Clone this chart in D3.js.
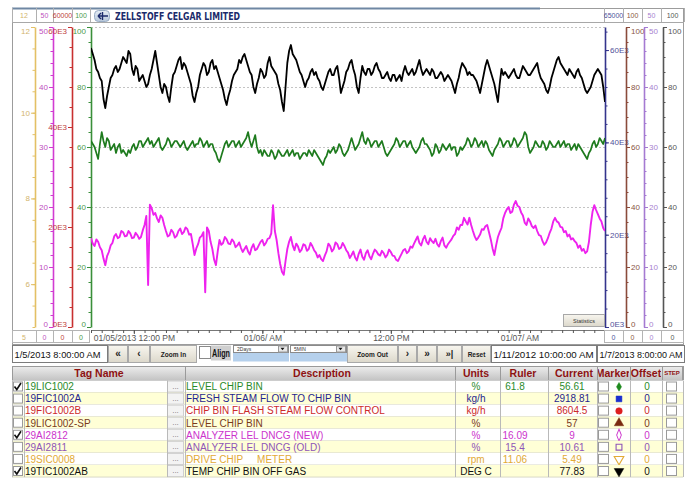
<!DOCTYPE html>
<html>
<head>
<meta charset="utf-8">
<script src="https://cdn.jsdelivr.net/npm/d3@7/dist/d3.min.js"></script>
<style>
html,body{margin:0;padding:0;background:#fff;}
svg{display:block;font-family:Arial,"Liberation Sans",sans-serif;}
</style>
</head>
<body>
<svg id="chart" width="694" height="479"></svg>
<script>
// ================= DATA =================
const startTime = new Date(2013, 0, 5, 8, 0, 0);
const endTime = new Date(2013, 0, 7, 8, 0, 0);
const sampleMinutes = 10;

// 19TIC1002AB  TEMP CHIP BIN OFF GAS (DEG C)
const tempChipBinOffGas = [
93,91,89,86,85,83,82,76,73,77,80,83,84,86,87,85,86,88,90,89,
88,92,91,86,84,87,86,82,83,84,82,80,81,84,86,89,92,88,84,80,
78,81,80,77,75,80,84,85,87,89,90,86,88,87,85,83,81,77,75,78,
80,84,86,88,87,84,85,88,89,86,87,85,83,81,79,76,74,77,79,82,
84,85,86,89,88,90,91,89,87,85,84,80,78,81,83,86,85,83,84,88,
90,87,86,85,84,81,79,75,72,80,88,92,94,91,90,89,87,85,84,82,
80,82,83,85,86,84,85,83,82,80,79,81,83,85,86,84,84,86,87,83,
78,80,82,85,86,88,89,86,84,80,78,83,87,85,84,86,86,84,85,87,
88,86,85,83,83,84,85,83,82,84,84,82,83,84,82,85,87,85,84,85,
86,84,85,87,89,86,84,85,86,85,84,86,85,83,83,84,85,84,82,83,
84,83,82,80,78,81,83,86,88,87,86,84,85,84,84,83,82,80,78,81,
84,87,89,87,85,83,81,78,75,81,86,84,85,84,83,84,85,86,84,83,
83,85,87,86,85,84,84,85,86,87,88,85,83,82,81,79,78,80,83,85,
87,89,90,88,87,86,85,84,86,85,84,83,85,86,84,83,81,79,78,79,
80,82,84,85,86,85,84,80,75];

// 19LIC1002  LEVEL CHIP BIN (%)
const levelChipBin = [
62,61,60,58,56,61,65,62,60,63,62,59,60,61,58,60,61,58,59,58,
57,59,58,60,61,59,60,62,62,60,61,62,63,61,62,60,61,62,63,60,
59,60,61,63,62,60,61,62,62,61,60,61,62,60,59,60,61,62,60,61,
61,63,62,60,61,62,60,61,61,59,58,56,55,57,59,61,62,60,61,62,
62,60,61,62,60,61,62,63,65,62,60,62,64,60,58,59,57,59,58,57,
57,59,58,56,57,59,58,57,57,58,59,57,58,59,57,58,58,56,57,58,
58,57,59,58,57,59,58,57,56,55,54,56,57,59,58,59,60,58,59,61,
60,58,57,58,59,61,63,61,59,60,61,63,65,62,61,63,62,60,61,62,
62,60,61,62,60,58,57,58,59,60,61,63,62,60,61,62,62,60,61,62,
60,59,58,59,60,62,63,61,61,60,59,57,58,61,60,58,59,61,60,59,
60,61,59,60,60,57,58,60,59,60,61,63,62,60,61,63,62,60,61,62,
60,62,61,59,58,57,59,60,61,63,62,60,61,62,62,60,61,63,62,60,
61,62,63,65,64,60,58,59,60,62,61,60,60,62,61,59,60,62,61,60,
60,61,62,60,61,62,60,61,61,59,60,61,59,61,60,59,58,57,56,58,
59,61,62,60,61,63,62,61,63];

// 29AI2812  ANALYZER LEL DNCG (NEW) (%)
const analyzerLelNew = [
14.8,13.9,13.5,14.6,14.2,13.3,12.8,11.4,10.3,11.8,12.5,13.6,14.0,15.1,15.5,14.8,15.0,16.0,15.8,15.1,
15.2,16.0,15.6,14.8,14.9,15.7,15.3,14.7,15.0,16.1,17.0,18.5,7.0,20.4,19.8,18.7,19.0,18.1,17.5,18.6,
18.2,17.0,16.0,15.1,15.3,16.2,15.8,14.9,15.2,16.0,16.4,15.5,15.8,16.6,16.3,15.4,15.5,13.8,12.0,13.1,
13.8,14.9,15.2,15.8,5.8,16.6,16.0,14.2,13.0,11.2,10.3,12.6,14.5,13.7,14.0,15.0,14.6,13.9,13.8,14.6,
14.2,13.3,13.6,14.1,13.2,12.5,13.0,13.5,12.6,12.1,13.2,13.8,12.8,13.0,13.6,14.2,14.5,13.6,14.0,14.7,
14.8,15.6,20.3,16.0,14.5,12.3,10.5,9.2,8.7,11.0,13.0,14.2,15.0,13.6,12.8,13.9,13.4,12.5,12.9,13.8,
13.6,12.7,13.0,14.0,13.5,12.8,12.4,11.6,12.0,11.3,11.0,11.9,12.6,13.9,13.5,12.6,13.0,14.1,13.8,13.0,
13.2,14.0,13.5,12.8,12.4,11.5,12.0,12.6,11.6,11.1,12.2,12.9,11.7,11.2,12.3,12.8,11.8,11.3,12.2,12.9,
12.6,12.1,11.9,12.7,12.3,11.6,12.0,12.9,12.5,11.9,11.8,11.2,11.0,11.6,12.2,12.8,13.0,12.3,12.6,13.4,
13.2,13.9,14.5,15.1,14.0,13.6,14.6,15.2,14.2,13.8,14.8,14.3,14.0,14.7,13.8,13.4,14.3,14.9,13.6,13.2,
13.8,14.2,14.6,15.2,15.5,16.6,16.2,17.0,17.0,18.2,17.6,17.1,18.2,17.0,16.0,15.1,14.5,14.9,15.4,16.3,
16.2,16.8,17.0,15.8,14.6,13.1,12.0,13.6,15.0,15.8,16.5,18.1,19.0,19.6,20.0,19.0,19.2,20.4,21.0,20.2,
20.0,19.1,18.6,17.4,17.0,18.1,17.6,16.8,16.5,16.9,16.0,15.3,15.2,14.3,13.7,14.1,14.8,15.7,16.4,17.6,
18.2,17.6,17.4,16.7,16.6,15.8,16.0,15.1,15.4,14.6,14.8,14.3,14.0,13.2,13.6,12.7,13.0,12.3,12.6,14.2,
17.0,19.2,20.3,19.5,18.8,18.1,17.6,16.5,16.0];

const leftAxisMin = [5, 0, 0, 0];
const leftAxisMax = [12, 50, 60000, 100];
const leftAxisTicks = [[6,8,10,12],[0,10,20,30,40,50],[0,20000,40000,60000],[0,20,40,60,80,100]];
const leftAxisMinorStep = [0.5, 2, 4000, 5];
const rightAxisMin = [0, 0, 0, 0];
const rightAxisMax = [65000, 100, 50, 100];
const rightAxisTicks = [[0,20000,40000,60000],[0,20,40,60,80,100],[0,10,20,30,40,50],[0,20,40,60,80,100]];
const rightAxisMinorStep = [4000, 5, 2, 5];
const leftMaxLabels = ["12","50","60000","100"];
const leftMinLabels = ["5","0","0","0"];
const rightMaxLabels = ["65000","100","50","100"];
const rightMinLabels = ["0","0","0","0"];
const timeTicks = [new Date(2013,0,5,12), new Date(2013,0,6,0), new Date(2013,0,6,12), new Date(2013,0,7,0)];
const timeTickLabels = ["01/05/2013 12:00 PM","01/06/ AM","12:00 PM","01/07/ AM"];

const tagNames = ["19LIC1002","19FIC1002A","19FIC1002B","19LIC1002-SP","29AI2812","29AI2811","19SIC0008","19TIC1002AB"];
const descriptions = ["LEVEL CHIP BIN","FRESH STEAM FLOW TO CHIP BIN","CHIP BIN FLASH STEAM FLOW CONTROL","LEVEL CHIP BIN","ANALYZER LEL DNCG (NEW)","ANALYZER LEL DNCG (OLD)","DRIVE CHIP\u00a0\u00a0\u00a0\u00a0\u00a0METER","TEMP CHIP BIN OFF GAS"];
const unitLabels = ["%","kg/h","kg/h","%","%","%","rpm","DEG C"];
const rulerValues = ["61.8","","","","16.09","15.4","11.06",""];
const currentValues = ["56.61","2918.81","8604.5","57","9","10.61","5.49","77.83"];
const offsetValues = ["0","0","0","0","0","0","0","0"];
const tagVisible = [true,false,false,false,true,false,false,true];
const columnHeaders = ["Tag Name","Description","Units","Ruler","Current","Marker","Offset","STEP"];
const navStartText = "1/5/2013 8:00:00 AM";
const navRulerText = "1/11/2012 10:00:00 AM";
const navEndText = "1/7/2013 8:00:00 AM";
const spanOption = "2Days";
const intervalOption = "5MIN";
const titleText = "ZELLSTOFF CELGAR LIMITED";

// ================= STYLE / LAYOUT =================
const svg = d3.select("#chart");
const FONT = "Arial, 'Liberation Sans', sans-serif";
const plotL = 91, plotR = 605, plotT = 27, plotB = 327;
const leftAxisX = [35, 53, 72, 91];
const rightAxisX = [605, 626, 644, 663];
const leftAxisColor = ["#e3c065","#d23cd2","#c83030","#3a8f3a"];
const leftLabelColor = ["#d2b46c","#c050c0","#c04040","#4a994a"];
const rightAxisColor = ["#34348c","#8a4b3b","#a57ad2","#555555"];
const rightLabelColor = ["#50509a","#8a5545","#a882d0","#555555"];
const rowColors = ["#2a8a2a","#1f2690","#cc2a2a","#7a3b1c","#cc33cc","#8e55b8","#e2aa34","#111111"];

const defs = svg.append("defs");
function vgrad(id, c1, c2){
  const g = defs.append("linearGradient").attr("id", id).attr("x1",0).attr("y1",0).attr("x2",0).attr("y2",1);
  g.append("stop").attr("offset",0).attr("stop-color",c1);
  g.append("stop").attr("offset",1).attr("stop-color",c2);
}
vgrad("hdrGrad","#eeeeee","#c4c4c4");
vgrad("btnGrad","#f8f6ef","#dcd8cb");
vgrad("iconGrad","#e6edf5","#b7c7da");
defs.append("clipPath").attr("id","plotClip").append("rect")
  .attr("x",plotL).attr("y",plotT-2).attr("width",plotR-plotL).attr("height",plotB-plotT+3);

function txt(parent, x, y, s, opts = {}) {
  const t = parent.append("text").attr("x", x).attr("y", y).text(s)
    .attr("font-family", opts.family || FONT)
    .attr("font-size", opts.size || 10)
    .attr("fill", opts.fill || "#000")
    .attr("text-anchor", opts.anchor || "start");
  if (opts.weight) t.attr("font-weight", opts.weight);
  if (opts.len) t.attr("textLength", opts.len).attr("lengthAdjust", "spacingAndGlyphs");
  if (opts.clip) t.attr("clip-path", opts.clip);
  return t;
}

// ================= SCALES =================
const x = d3.scaleTime().domain([startTime, endTime]).range([plotL, plotR]);
const leftScales = leftAxisMin.map((m, i) => d3.scaleLinear().domain([m, leftAxisMax[i]]).range([plotB, plotT]));
const rightScales = rightAxisMin.map((m, i) => d3.scaleLinear().domain([m, rightAxisMax[i]]).range([plotB, plotT]));
const timeAt = i => new Date(startTime.getTime() + i * sampleMinutes * 60000);

// ================= FRAME / HEADER =================
svg.append("rect").attr("x",12.5).attr("y",8.5).attr("width",671).attr("height",336)
  .attr("fill","#fff").attr("stroke","#9c9c9c");
svg.append("line").attr("x1",12).attr("x2",540).attr("y1",8.5).attr("y2",8.5)
  .attr("stroke","#6f87a3").attr("stroke-width",2);
svg.append("line").attr("x1",12).attr("x2",684).attr("y1",22.5).attr("y2",22.5).attr("stroke","#a8a8a8");

const leftCellEdges = [12, 36, 53, 72, 90];
const rightCellEdges = [604, 623, 642, 661, 684];
const hdr = svg.append("g");
[leftCellEdges, rightCellEdges].forEach(edges => edges.forEach(e => {
  hdr.append("line").attr("x1", e + 0.5).attr("x2", e + 0.5).attr("y1", 8).attr("y2", 22).attr("stroke", "#b0b0b0");
}));
leftMaxLabels.forEach((s, i) => txt(hdr, (leftCellEdges[i] + leftCellEdges[i+1]) / 2, 18, s,
  {size: 7, fill: leftLabelColor[i], anchor: "middle"}));
rightMaxLabels.forEach((s, i) => txt(hdr, (rightCellEdges[i] + rightCellEdges[i+1]) / 2, 18, s,
  {size: 7, fill: rightLabelColor[i], anchor: "middle"}));

// icon
hdr.append("rect").attr("x",94.5).attr("y",10.5).attr("width",15).attr("height",11).attr("rx",4)
  .attr("fill","url(#iconGrad)").attr("stroke","#9aaec6");
hdr.append("path").attr("d","M98,16 L108,16 M98,16 L101,13 M98,16 L101,19 M102.5,12 L102.5,20")
  .attr("stroke","#1b2a6b").attr("stroke-width",1.4).attr("fill","none");
txt(hdr, 115, 20, titleText, {size: 11, weight: "bold", fill: "#1b2a6b",
  family: "'DejaVu Sans Condensed','Liberation Sans Narrow',sans-serif", len: 125});

// ================= GRID =================
const gridScale = leftScales[3];
svg.append("g").selectAll("line").data([20,40,60,80,100]).join("line")
  .attr("x1", plotL).attr("x2", plotR)
  .attr("y1", d => Math.round(gridScale(d)) + 0.5).attr("y2", d => Math.round(gridScale(d)) + 0.5)
  .attr("stroke", "#c4c4c4").attr("stroke-dasharray", "2,2");

// ================= AXES =================
function drawAxis(xp, scale, majors, minorStep, col, labCol, side, fmt) {
  const g = svg.append("g").attr("transform", `translate(${xp},0)`);
  const [lo, hi] = scale.domain();
  const minors = d3.range(lo, hi + minorStep * 0.01, minorStep);
  const mk = side === "left" ? d3.axisLeft : d3.axisRight;
  const gm = g.append("g").call(mk(scale).tickValues(minors).tickSize(2.5).tickSizeOuter(0).tickFormat(""));
  gm.select(".domain").remove();
  gm.selectAll("line").attr("stroke", col);
  const ga = g.append("g").call(mk(scale).tickValues(majors).tickSize(4).tickSizeOuter(0).tickPadding(1).tickFormat(fmt));
  ga.attr("font-family", FONT).attr("font-size", 8);
  ga.select(".domain").attr("stroke", col).attr("stroke-width", 1.6);
  ga.selectAll(".tick line").attr("stroke", col);
  ga.selectAll(".tick text").attr("fill", labCol)
    .attr("y", d => d === hi ? 4 : (d === lo ? -3 : 0));
}
const e3 = d => (d / 1000) + "E3";
const plain = d => String(d);
const leftFormats = [plain, plain, e3, plain];
const rightFormats = [e3, plain, plain, plain];
leftScales.forEach((s, i) => drawAxis(leftAxisX[i], s, leftAxisTicks[i], leftAxisMinorStep[i], leftAxisColor[i], leftLabelColor[i], "left", leftFormats[i]));
rightScales.forEach((s, i) => drawAxis(rightAxisX[i], s, rightAxisTicks[i], rightAxisMinorStep[i], rightAxisColor[i], rightLabelColor[i], "right", rightFormats[i]));

// time axis
const gxMinor = svg.append("g").attr("transform", "translate(0,330)")
  .call(d3.axisBottom(x).ticks(d3.timeHour.every(1)).tickSize(3).tickSizeOuter(0).tickFormat(""));
gxMinor.select(".domain").attr("stroke", "#777");
gxMinor.selectAll("line").attr("stroke", "#555");
const gxMajor = svg.append("g").attr("transform", "translate(0,330)")
  .call(d3.axisBottom(x).tickValues(timeTicks).tickSize(4).tickPadding(1).tickSizeOuter(0)
    .tickFormat((d, i) => timeTickLabels[i]));
gxMajor.attr("font-family", FONT).attr("font-size", 8.5);
gxMajor.select(".domain").remove();
gxMajor.selectAll("line").attr("stroke", "#555");
gxMajor.selectAll("text").attr("fill", "#555");

// min value boxes
const minRow = svg.append("g");
[[leftCellEdges, leftMinLabels, leftLabelColor], [rightCellEdges, rightMinLabels, rightLabelColor]].forEach(([edges, labs, cols]) => {
  minRow.append("rect").attr("x", edges[0] + 0.5).attr("y", 330.5).attr("width", edges[edges.length-1] - edges[0] - 1).attr("height", 12)
    .attr("fill", "#fff").attr("stroke", "#b4b4b4");
  edges.slice(1, -1).forEach(e => minRow.append("line").attr("x1", e + 0.5).attr("x2", e + 0.5).attr("y1", 330).attr("y2", 343).attr("stroke", "#b4b4b4"));
  labs.forEach((s, i) => txt(minRow, (edges[i] + edges[i+1]) / 2, 339.5, s, {size: 7, fill: cols[i], anchor: "middle"}));
});

// ================= SERIES =================
const series = [
  {values: levelChipBin, scale: leftScales[3], color: "#1e7b1e", w: 1.7},
  {values: analyzerLelNew, scale: leftScales[1], color: "#ee22ee", w: 1.9},
  {values: tempChipBinOffGas, scale: rightScales[3], color: "#000000", w: 1.8}
];
const lines = svg.append("g").attr("clip-path", "url(#plotClip)");
series.forEach(s => {
  lines.append("path").datum(s.values)
    .attr("d", d3.line().x((d, i) => x(timeAt(i))).y(d => s.scale(d)))
    .attr("fill", "none").attr("stroke", s.color).attr("stroke-width", s.w).attr("stroke-linejoin", "round");
});

// Statistics button
svg.append("rect").attr("x", 563.5).attr("y", 314.5).attr("width", 41).attr("height", 12)
  .attr("fill", "url(#btnGrad)").attr("stroke", "#a8a8a8");
txt(svg, 584, 322.5, "Statistics", {size: 5.5, fill: "#333", anchor: "middle"});

// ================= NAV BAR =================
const nav = svg.append("g");
const navY = 345.5, navH = 17;
function textbox(x0, x1, s, len) {
  nav.append("rect").attr("x", x0 + 0.5).attr("y", navY).attr("width", x1 - x0 - 1).attr("height", navH)
    .attr("fill", "#fff").attr("stroke", "#7c7c7c");
  txt(nav, x0 + 2.5, navY + 12.5, s, {size: 9.5, fill: "#111", len: len});
}
function button(x0, x1, s, size, weight) {
  nav.append("rect").attr("x", x0 + 0.5).attr("y", navY).attr("width", x1 - x0 - 1).attr("height", navH)
    .attr("fill", "url(#btnGrad)").attr("stroke", "#a9a9a9");
  txt(nav, (x0 + x1) / 2, navY + 11, s, {size: size, fill: "#222", anchor: "middle", weight: weight});
}
textbox(12, 108, navStartText, 86);
button(108, 128, "\u00ab", 10, "bold");
button(128, 150, "\u2039", 10, "bold");
button(150, 197, "Zoom In", 6.5, "bold");
nav.append("rect").attr("x", 199.5).attr("y", navY + 1).attr("width", 11).attr("height", 12).attr("fill", "#fff").attr("stroke", "#8a8a8a");
nav.append("rect").attr("x", 211).attr("y", navY).attr("width", 20).attr("height", 15).attr("fill", "#cfcfcf");
txt(nav, 212, navY + 11, "Align", {size: 10, weight: "bold", fill: "#111", len: 18});
function select(x0, x1, s) {
  nav.append("rect").attr("x", x0).attr("y", navY + 7).attr("width", x1 - x0).attr("height", 9).attr("fill", "#b5d0ec");
  nav.append("rect").attr("x", x0 + 0.5).attr("y", navY).attr("width", x1 - x0 - 1).attr("height", 7).attr("fill", "#fff").attr("stroke", "#8a8a8a");
  txt(nav, x0 + 4, navY + 5.5, s, {size: 5, fill: "#333"});
  nav.append("rect").attr("x", x1 - 10.5).attr("y", navY + 0.5).attr("width", 9).attr("height", 6).attr("fill", "#e8e8e8").attr("stroke", "#999");
  nav.append("path").attr("d", `M${x1 - 8.5},${navY + 2.3} L${x1 - 4.5},${navY + 2.3} L${x1 - 6.5},${navY + 4.8} Z`).attr("fill", "#111");
}
select(233, 289, spanOption);
select(290, 347, intervalOption);
button(347, 398, "Zoom Out", 6.5, "bold");
button(398, 417, "\u203a", 10, "bold");
button(417, 437, "\u00bb", 10, "bold");
button(437, 462, "\u00bb|", 9, "bold");
button(462, 491, "Reset", 6.5, "bold");
textbox(491, 597, navRulerText, 100);
textbox(597, 685, navEndText, 83);

// ================= TABLE =================
const table = svg.append("g");
const colEdges = [12, 185, 455, 500, 548, 597, 630, 662, 683];
const headerCenters = [99, 322, 476, 523, 574, 613, 646, 672];
const hdrTop = 366, hdrH = 14;
table.append("rect").attr("x", 12).attr("y", hdrTop).attr("width", 671).attr("height", hdrH).attr("fill", "url(#hdrGrad)");
columnHeaders.forEach((h, i) => {
  const cid = "hclip" + i;
  defs.append("clipPath").attr("id", cid).append("rect")
    .attr("x", colEdges[i] + 1).attr("y", hdrTop).attr("width", colEdges[i+1] - colEdges[i] - 2).attr("height", hdrH);
  const small = h === "STEP";
  txt(table, headerCenters[i], hdrTop + (small ? 9 : 11), h,
    {size: small ? 6 : 10.5, weight: "bold", fill: "#8e1212", anchor: "middle", clip: `url(#${cid})`});
});
colEdges.forEach(e => table.append("line").attr("x1", e + 0.5).attr("x2", e + 0.5).attr("y1", hdrTop).attr("y2", hdrTop + hdrH).attr("stroke", "#9a9a9a"));
table.append("rect").attr("x", 12.5).attr("y", hdrTop + 0.5).attr("width", 670).attr("height", hdrH).attr("fill", "none").attr("stroke", "#9a9a9a");

const rowTop = 380.5, rowH = 12.07;
const markerShapes = [
  {type: d3.symbolDiamond, size: 22, fill: true, rot: 0},
  {type: d3.symbolSquare, size: 34, fill: true, rot: 0},
  {type: d3.symbolCircle, size: 34, fill: true, rot: 0},
  {type: d3.symbolTriangle, size: 38, fill: true, rot: 0},
  {type: d3.symbolDiamond, size: 34, fill: false, rot: 0},
  {type: d3.symbolSquare, size: 34, fill: false, rot: 0},
  {type: d3.symbolTriangle, size: 40, fill: false, rot: 180},
  {type: d3.symbolTriangle, size: 40, fill: true, rot: 180}
];
const markerColors = ["#1e8a1e","#1a2fd0","#dd1f1f","#7a2a10","#cc33cc","#8e55b8","#e2aa34","#000"];
tagNames.forEach((tag, i) => {
  const y0 = rowTop + i * rowH;
  const col = rowColors[i];
  const g = table.append("g");
  g.append("rect").attr("x", 12).attr("y", y0).attr("width", 671).attr("height", rowH)
    .attr("fill", i % 2 ? "#ffffd6" : "#ffffff");
  g.append("line").attr("x1", 12).attr("x2", 683).attr("y1", y0 + rowH).attr("y2", y0 + rowH).attr("stroke", "#d9d9c8");
  g.append("rect").attr("x", 13.5).attr("y", y0 + 1.5).attr("width", 9).attr("height", 9).attr("fill", "#fff").attr("stroke", "#9a9a9a");
  if (tagVisible[i]) {
    g.append("path").attr("d", `M14.5,${y0 + 6} L16.8,${y0 + 9} L21,${y0 + 2.5}`)
      .attr("fill", "none").attr("stroke", "#111").attr("stroke-width", 1.6);
  }
  txt(g, 25, y0 + 9.8, tag, {size: 10, fill: col});
  g.append("rect").attr("x", 167.5).attr("y", y0 + 0.5).attr("width", 16).attr("height", rowH - 1)
    .attr("fill", "#f3f3f3").attr("stroke", "#cfcfcf");
  txt(g, 175.5, y0 + 8.5, "...", {size: 8, fill: "#777", anchor: "middle"});
  txt(g, 186, y0 + 9.8, descriptions[i], {size: 10, fill: col});
  txt(g, 476, y0 + 9.8, unitLabels[i], {size: 10, fill: col, anchor: "middle"});
  txt(g, 515, y0 + 9.8, rulerValues[i], {size: 10, fill: col, anchor: "middle"});
  txt(g, 572, y0 + 9.8, currentValues[i], {size: 10, fill: col, anchor: "middle"});
  g.append("rect").attr("x", 598.5).attr("y", y0 + 1.5).attr("width", 10).attr("height", 9).attr("fill", "#fff").attr("stroke", "#9a9a9a");
  const m = markerShapes[i];
  g.append("path").attr("d", d3.symbol().type(m.type).size(m.size)())
    .attr("transform", `translate(619,${y0 + rowH / 2 + 0.3}) rotate(${m.rot})` + (m.type === d3.symbolDiamond && !m.fill ? " scale(0.75,1.1)" : ""))
    .attr("fill", m.fill ? markerColors[i] : "none")
    .attr("stroke", markerColors[i]).attr("stroke-width", m.fill ? 0.5 : 1.1);
  txt(g, 647, y0 + 9.8, offsetValues[i], {size: 10, fill: col, anchor: "middle"});
  g.append("rect").attr("x", 666.5).attr("y", y0 + 1.5).attr("width", 10).attr("height", 9).attr("fill", "#fff").attr("stroke", "#9a9a9a");
});
[12, 24, 167, 185, 455, 500, 548, 597, 630, 662, 683].forEach(e => table.append("line")
  .attr("x1", e + 0.5).attr("x2", e + 0.5).attr("y1", rowTop).attr("y2", rowTop + rowH * tagNames.length)
  .attr("stroke", "#b9b9b9"));
</script>
</body>
</html>
